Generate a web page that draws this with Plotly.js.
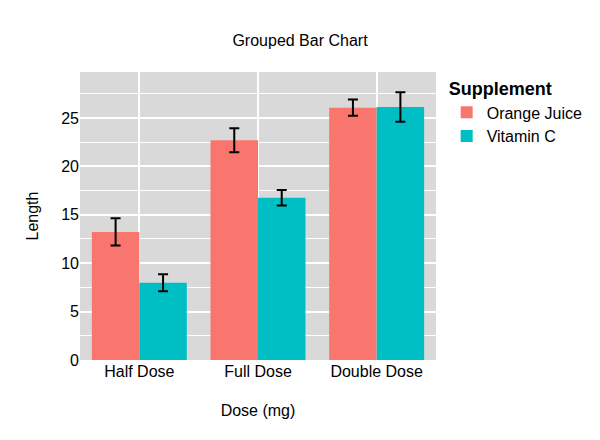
<!DOCTYPE html>
<html>
<head>
<meta charset="utf-8">
<script src="https://cdn.plot.ly/plotly-3.0.1.min.js"></script>
</head>
<body style="margin:0">
<div id="chart" style="width:600px;height:440px"></div>
<script>
// ToothGrowth means and standard errors
const doses = ['Half Dose', 'Full Dose', 'Double Dose'];
const ojLen = [13.23, 22.70, 26.06];
const ojSe = [1.41, 1.24, 0.84];
const vcLen = [7.98, 16.77, 26.14];
const vcSe = [0.87, 0.80, 1.52];

const errStyle = { type: 'data', visible: true, color: 'black', thickness: 2, width: 5 };

const data = [
    {
        x: doses, y: ojLen, name: 'Orange Juice', type: 'bar',
        marker: { color: '#F8766D' },
        error_y: Object.assign({ array: ojSe }, errStyle)
    },
    {
        x: doses, y: vcLen, name: 'Vitamin C', type: 'bar',
        marker: { color: '#00BFC4' },
        error_y: Object.assign({ array: vcSe }, errStyle)
    }
];

const layout = {
    width: 600, height: 440,
    margin: { l: 80, r: 160, t: 72, b: 80 },
    font: { family: 'Liberation Sans, Arial, sans-serif', size: 16, color: 'black' },
    title: { text: 'Grouped Bar Chart', font: { size: 16 }, x: 0.5, xanchor: 'center', y: 0.922 },
    barmode: 'group',
    bargap: 0.2,
    bargroupgap: 0,
    plot_bgcolor: '#d9d9d9',
    paper_bgcolor: 'white',
    xaxis: {
        title: { text: 'Dose (mg)', font: { size: 16 }, standoff: 25 },
        showgrid: true, gridcolor: 'white', gridwidth: 2,
        ticks: '', zeroline: false
    },
    yaxis: {
        title: { text: 'Length', font: { size: 16 } },
        range: [0, 29.75], dtick: 5,
        showgrid: true, gridcolor: 'white', gridwidth: 2,
        minor: { dtick: 2.5, showgrid: true, gridcolor: 'white', gridwidth: 1 },
        zeroline: false, ticks: ''
    },
    legend: {
        title: { text: '<b>Supplement</b>', font: { size: 18 } },
        x: 1.03, y: 1.0, yanchor: 'top', font: { size: 16 }
    },
    showlegend: true
};

Plotly.newPlot('chart', data, layout, { displayModeBar: false });
</script>
</body>
</html>
